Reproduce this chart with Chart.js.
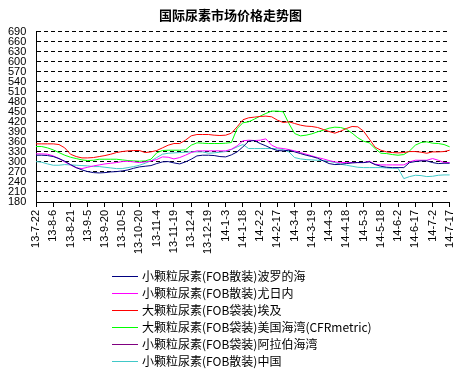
<!DOCTYPE html>
<html><head><meta charset="utf-8">
<script src="https://cdn.jsdelivr.net/npm/chart.js@4.4.0/dist/chart.umd.min.js"></script>
<style>html,body{margin:0;padding:0;background:#fff;}canvas{display:block;}</style>
</head><body>
<canvas id="c" width="466" height="373"></canvas>
<script>
// x tick labels (every 15 days from 13-7-22)
const tickLabels = ["13-7-22","13-8-6","13-8-21","13-9-5","13-9-20","13-10-5","13-10-20","13-11-4","13-11-19","13-12-4","13-12-19","14-1-3","14-1-18","14-2-2","14-2-17","14-3-4","14-3-19","14-4-3","14-4-18","14-5-3","14-5-18","14-6-2","14-6-17","14-7-2","14-7-17"];
// sample positions: days after 2013-07-22
const days = [0,5,10,15,20,25,30,35,40,45,50,55,60,65,70,75,80,85,90,95,100,105,110,115,120,125,130,135,140,145,150,155,160,165,170,175,180,185,190,195,200,205,210,215,220,225,230,235,240,245,250,255,260,265,270,275,280,285,290,295,300,305,310,315,320,325,330,335,340,345,350,355,360];
const yTicks = [180,690,30]; // min, max, step

const seriesNames = [
  "小颗粒尿素(FOB散装)波罗的海",
  "小颗粒尿素(FOB散装)尤日内",
  "大颗粒尿素(FOB袋装)埃及",
  "大颗粒尿素(FOB袋装)美国海湾(CFRmetric)",
  "小颗粒尿素(FOB袋装)阿拉伯海湾",
  "小颗粒尿素(FOB散装)中国"
];
const baltic = [320,320,319,316,310,302,292,283,276,271,
  268,267,268,270,271,273,276,281,285,287,
  289,295,300,301,297,294,300,308,318,320,
  320,319,316,315,321,330,345,362,364,355,
  348,340,334,333,335,330,325,320,316,311,
  303,295,292,293,295,297,298,298,300,292,
  287,284,283,283,283,298,301,303,303,298,
  295,296,296];
const yuzhny = [324,324,323,318,310,300,291,282,280,284,
  288,291,294,296,298,301,302,300,298,300,
  303,307,315,314,309,313,320,328,333,333,
  333,333,333,333,338,348,363,365,364,365,
  369,350,342,340,337,333,328,323,318,313,
  309,304,300,298,298,298,298,298,302,293,
  291,291,291,291,291,300,305,305,305,310,
  305,298,298];
const egypt = [354,354,354,354,352,342,323,316,312,312,
  313,316,319,323,328,331,333,334,334,328,
  330,334,342,350,355,355,365,378,382,382,
  382,380,379,380,386,405,426,432,434,436,
  437,435,425,418,420,415,410,407,406,403,
  397,391,386,392,400,406,405,392,368,344,
  335,330,328,327,328,331,331,329,326,330,
  330,331,335];
const usGulf = [346,346,342,336,328,320,314,310,306,304,
  305,308,308,308,308,306,304,303,302,303,
  308,327,334,335,335,335,336,350,357,356,
  355,355,355,356,358,400,417,420,428,437,
  445,452,452,450,415,385,378,380,384,390,
  395,401,404,403,398,386,372,362,357,340,
  326,325,322,320,322,333,350,358,360,356,
  355,352,345];
const arabGulf = [];
const china = [301,299,294,290,290,292,291,290,289,288,
  286,286,284,282,280,280,283,286,290,296,
  303,313,323,326,327,328,329,330,330,330,
  326,327,329,331,337,345,352,340,340,340,
  340,340,339,337,330,313,309,307,306,305,
  304,302,298,293,290,287,284,283,283,283,
  283,282,281,281,250,256,260,259,256,257,
  260,261,261];

const seriesValues = [baltic, yuzhny, egypt, usGulf, arabGulf, china];
const seriesColors = ["#000080","#FF00FF","#FF0000","#00FF00","#800080","#40C8C8"];

const datasets = seriesNames.map((name, i) => ({
  label: name,
  data: seriesValues[i].map((v, j) => ({x: days[j], y: v})),
  borderColor: seriesColors[i],
  backgroundColor: seriesColors[i],
  borderWidth: 1,
  pointRadius: 0,
  tension: 0,
  fill: false
}));

const stackLegend = {
  id: 'stackLegend',
  afterDraw(chart) {
    const ctx = chart.ctx;
    const x0 = 112, lineW = 26, textX = 142;
    let y = chart.chartArea.bottom + 74;
    ctx.save();
    ctx.font = '12px "Noto Sans CJK SC"';
    ctx.textBaseline = 'middle';
    ctx.textAlign = 'left';
    chart.data.datasets.forEach(ds => {
      const yy = Math.round(y) + 0.5;
      ctx.strokeStyle = ds.borderColor;
      ctx.lineWidth = 1;
      ctx.beginPath(); ctx.moveTo(x0, yy); ctx.lineTo(x0 + lineW, yy); ctx.stroke();
      ctx.fillStyle = '#000';
      ctx.fillText(ds.label, textX, y);
      y += 17;
    });
    ctx.restore();
  }
};

new Chart(document.getElementById('c'), {
  type: 'line',
  data: { datasets },
  plugins: [stackLegend],
  options: {
    responsive: false,
    animation: false,
    devicePixelRatio: 1,
    layout: { padding: { left: 8, right: 13, top: 0, bottom: 111 } },
    plugins: {
      legend: { display: false },
      tooltip: { enabled: false },
      title: {
        display: true,
        text: '国际尿素市场价格走势图',
        color: '#000',
        font: { family: '"Noto Sans CJK SC"', size: 13, weight: 'bold', lineHeight: 1.2 },
        padding: { top: 7, bottom: 9 }
      }
    },
    scales: {
      x: {
        type: 'linear', min: days[0], max: days[days.length - 1],
        afterFit: s => { s.height = 60; },
        ticks: {
          stepSize: 15, autoSkip: false, maxRotation: 90, minRotation: 90, padding: 3,
          color: '#000', font: { family: 'Liberation Sans', size: 11 },
          callback: v => tickLabels[Math.round(v / 15)]
        },
        grid: { drawOnChartArea: false, drawTicks: true, tickLength: 5, color: '#000', lineWidth: 1 },
        border: { display: true, color: '#000', width: 1 }
      },
      y: {
        min: yTicks[0], max: yTicks[1],
        afterFit: s => { s.width = 28; },
        ticks: { stepSize: yTicks[2], autoSkip: false, crossAlign: 'far', padding: 0, color: '#000', font: { family: 'Liberation Sans', size: 11, lineHeight: 0.9 } },
        grid: { color: '#000', drawTicks: false, lineWidth: 1 },
        border: { display: true, color: '#000', width: 1, dash: [4, 3] }
      }
    }
  }
});
</script>
</body></html>
